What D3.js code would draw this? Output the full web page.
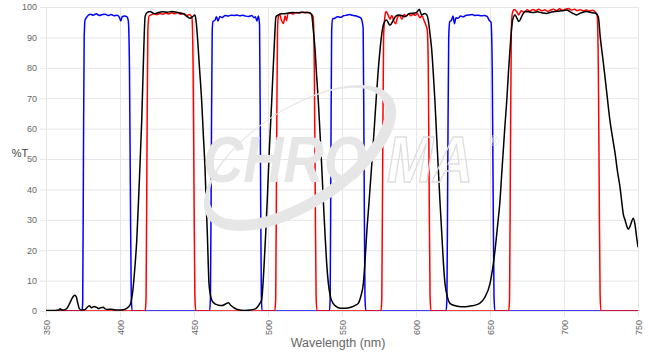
<!DOCTYPE html>
<html>
<head>
<meta charset="utf-8">
<script src="https://cdn.jsdelivr.net/npm/d3@7"></script>
<style>
  body { margin: 0; background: #fff; }
  svg { display: block; font-family: "Liberation Sans", Arial, sans-serif; }
</style>
</head>
<body>
<svg id="chart" width="652" height="354"></svg>
<script>
// Tick values
const xTicks = [350, 400, 450, 500, 550, 600, 650, 700, 750];
const yTicks = [0, 10, 20, 30, 40, 50, 60, 70, 80, 90, 100];

// Excitation filters (blue), [wavelength nm, %T]
const excitation = [
    [350,0],[374.3,0],[374.8,3],[375.3,50],[375.8,90],[376.4,95.7],[378,97],[380,97.6],[382,97.3],[384,97.8],[386,97.2],
    [388,97.5],[390,97.6],[392,97.2],[394,97.5],[396,97.1],[398,97.3],[399.5,96.7],[400.5,95.4],[401.5,96.8],[403,97],
    [404.5,96.9],[405.6,95.5],[406.4,80],[407,40],[407.6,5],[408.2,0],
    [460.5,0],[461.1,4],[461.7,50],[462.3,92],[462.8,95.2],[464.2,95.7],[465.2,96.8],[466.2,95.4],[467.5,96.9],[469,96.5],
    [471,97.2],[473,97],[475,97.3],[477,97.2],[479,97.4],[481,97.1],[483,97.3],[485,97],[487,96.9],[489,97.2],[490.5,96.5],
    [491.5,96.8],[492.5,95.4],[493.5,97],[494.3,94],[494.9,50],[495.5,5],[496,0],
    [541.5,0],[542,4],[542.5,50],[543,92],[543.6,96],[545,96.3],[547,96.8],[549,96.6],[551,97.1],[553,97.3],[555,97.5],
    [557,97.3],[559,97.1],[561,96.8],[562.5,96.5],[563.5,95.5],[564.3,93],[564.9,50],[565.5,5],[566.1,0],
    [620.3,0],[620.9,4],[621.5,50],[622.1,90],[622.8,95.2],[624,95.7],[625,97],[626,94.5],[627,96.5],[628.5,96.3],[630,97],
    [632,96.8],[634,97.3],[636,97.4],[638,97.5],[640,97.2],[642,97.3],[644,97.1],[646,97.2],[648,96.9],[649.5,95.6],
    [650.7,95],[651.5,80],[652.1,40],[652.7,5],[653.3,0],
    [750,0]
];

// Emission filters (red)
const emission = [
    [350,0],[417,0],[417.6,4],[418.2,50],[418.8,92],[419.6,97],[421,97.4],[423,97.8],[425,97.5],[427,97.9],[429,97.6],
    [431,98],[433,97.7],[435,98.1],[437,97.8],[439,98.2],[441,97.6],[443,97.9],[445,97.2],[447,97.5],[448.6,96.5],
    [449.4,80],[450,40],[450.6,5],[451.2,0],
    [504.6,0],[505.2,4],[505.8,50],[506.4,92],[507,96.8],[508,97.5],[509,95.8],[510.4,94.6],[511.5,97],[512.5,95.5],
    [513.5,97.8],[515,98],[517,97.7],[519,98.2],[521,98],[523,98.3],[525,98.1],[527,98.3],[529,97.8],[530.5,96.8],
    [531.3,80],[531.9,40],[532.5,5],[533.1,0],
    [576.3,0],[576.9,4],[577.5,50],[578.1,90],[578.8,96],[579.7,98.5],[581,97.6],[582.5,96],[583.7,97.2],[585,95.3],
    [586.3,94.5],[587.5,96.6],[589,97.2],[590.5,96],[592,97.5],[593.5,97],[595,97.8],[596.5,97.1],[598,97.6],[599.5,97.3],
    [601,97.9],[602.5,96.5],[604,97],[605.5,95.5],[606.7,94],[607.6,92.5],[608.3,80],[608.9,40],[609.5,5],[610.1,0],
    [662.6,0],[663.2,4],[663.8,50],[664.4,92],[665.1,98],[666.5,99.2],[668,98.5],[669.5,97.4],[671,98.8],[673,98.2],
    [675,99.1],[677,98.6],[679,99.2],[681,98.8],[683,99.3],[685,98.7],[687,99.1],[689,98.6],[691,99],[693,99.3],[695,98.8],
    [697,99.4],[699,98.9],[701,99.3],[703,99.5],[705,99],[707,99.3],[709,98.8],[711,99.1],[713,98.7],[715,99],[717,98.6],
    [719,98.9],[721,98.4],[722.4,97.4],[723.2,80],[723.8,40],[724.4,5],[725,0],
    [750,0]
];

// Dichroic (black)
const dichroic = [
    [350,0.2],[356,0.2],[358.5,0.3],[359.6,0.7],[360.6,0.4],[362,0.3],[364,0.8],[366,2.5],[368,4.5],[369.5,5.2],[370.5,4.6],
    [371.5,2.5],[372.5,0.8],[374,0.3],[376,0.4],[377.5,1],[379.3,1.7],[380.8,1.1],[382.5,1.5],[384.2,1.2],[385.5,0.8],
    [387,1.1],[388.7,1.2],[390,0.7],[392,0.5],[394,0.6],[396,0.4],[399,0.3],[402,0.4],[404.5,0.9],[406.8,2],[408.5,6],
    [410,14],[411.3,23],[413,42],[414.7,63],[416,85],[417,97],[418.5,98.2],[420.3,98.5],[422,98.1],[423.6,97.8],[426,98.2],
    [429,98.4],[432,98.3],[435,98.5],[438,98.3],[441,98],[443.5,97.6],[445.5,96.8],[447.3,96.3],[449,96.8],[450.7,97.4],
    [451.5,95],[452.2,91],[453.7,80],[455.2,69],[456.3,58],[457.4,47.5],[458.2,36],[459,25.6],[459.6,16],[460.1,9.2],
    [461,5.5],[462,3.6],[463.5,2.6],[466,2],[469,1.8],[471,2.2],[473.2,2.7],[475,1.8],[477.5,0.9],[480,0.4],[484,0.2],
    [488,0.3],[491,0.6],[493,1.4],[494.6,2.6],[495.7,3.6],[496.5,8],[497.3,14.6],[498.4,25],[499.5,36.5],[500.9,53],
    [502.5,69],[504.1,86],[505.4,96.8],[507,97.4],[509,97.8],[511.5,97.8],[514,98],[517,98.2],[520,98.1],[523,98.3],
    [526,98.2],[528.4,98],[529.5,97.4],[530.7,92],[531.8,86],[532.9,77],[534,69],[535.2,58],[536.3,47.5],[537.4,36],
    [538.5,25.6],[539.6,16],[540.8,9],[542.3,4.5],[544,2.5],[546,1.5],[548,1],[551,0.9],[554,1],[557,1.4],[559.5,2],
    [561,2.5],[562.8,5],[564.4,9],[565.5,16],[566.7,25.6],[568.3,36],[570,47.5],[571.5,58],[573,69],[574.3,78],[575.7,86],
    [577.9,94],[580,95.7],[582.4,94],[584.5,95.5],[586,96.8],[588,97.4],[590,97.2],[592.6,96.8],[594.5,97.5],[596,97.9],
    [599.3,98],[601,98.5],[602.2,99.3],[603.8,97.4],[606,97.9],[607.2,97.5],[608.3,95.7],[609.5,91],[610.6,86],[611.7,78],
    [612.8,69],[613.9,58],[615,47.5],[616.2,36],[617.4,25.6],[618.5,16],[619.6,9],[621.3,4.5],[623,2.5],[626,1.8],
    [629,1.5],[632,1.4],[635,1.5],[638,1.7],[641,2.1],[643,2.5],[646.5,4.5],[650,9],[653.4,20],[655.1,28],[656.8,36.5],
    [657.9,45],[659,53],[660.1,61],[661.3,69],[662.4,78],[663.5,86],[665.3,95.7],[666.9,97.4],[668,96.5],[669.5,95.2],
    [671.5,97],[673.6,98.5],[676,98.4],[679,98.2],[682,98.4],[685,98.1],[688.3,97.9],[691,98.3],[694,98.5],[697,98.7],
    [699.5,98.8],[701.8,99],[704,98.5],[706.5,97.8],[708.6,97.4],[711,98],[713,98.3],[715.3,98.5],[718,98.2],[721,98],
    [723.2,96.8],[724.5,90],[726,84],[727.7,77],[729.3,70],[731,62.8],[732.8,57],[734.5,51.9],[736.1,46],[737.8,40.9],
    [739,36],[740,32],[741.2,30],[742.4,28],[743.4,26.9],[744.4,27.6],[745.3,28.8],[746.8,30.5],[748,28.3],[749,24.5],
    [750,21]
];

const svgMargin = { top: 7, right: 14, bottom: 43, left: 46 };
const svg = d3.select("#chart");
const width = 652 - svgMargin.left - svgMargin.right;
const height = 354 - svgMargin.top - svgMargin.bottom;

const chart_svg = svg.append("g")
    .attr("transform", `translate(${svgMargin.left},${svgMargin.top})`);

const x = d3.scaleLinear().domain([350, 750]).range([0, width]);
const y = d3.scaleLinear().domain([0, 100]).range([height, 0]);

// Watermark logo (behind grid)
const logo = svg.append("g").attr("fill", "#e6e6e6");
logo.append("path")
    .attr("fill-rule", "evenodd")
    .attr("d", function() {
        // two rotated ellipses make a crescent ring
        const ell = (cx, cy, rx, ry, a) => {
            const pts = d3.range(0, 361, 6).map(t => {
                const r = t * Math.PI / 180, ca = Math.cos(a), sa = Math.sin(a);
                const px = rx * Math.cos(r), py = ry * Math.sin(r);
                return [cx + px * ca - py * sa, cy + px * sa + py * ca];
            });
            return "M" + pts.join("L") + "Z";
        };
        const a = -33 * Math.PI / 180;
        return ell(300, 158, 110, 50, a) + ell(297, 154, 101, 44, a);
    });
logo.append("text")
    .attr("x", 203).attr("y", 182)
    .attr("textLength", 164).attr("lengthAdjust", "spacingAndGlyphs")
    .style("font-size", "64px").style("font-weight", "900").style("font-style", "italic")
    .text("CHRO");
logo.append("text")
    .attr("x", 387).attr("y", 182)
    .attr("textLength", 86).attr("lengthAdjust", "spacingAndGlyphs")
    .attr("fill", "none").attr("stroke", "#dedede").attr("stroke-width", 1.5)
    .style("font-size", "64px").style("font-weight", "bold").style("font-style", "italic")
    .text("MA");
logo.append("text")
    .attr("x", 489).attr("y", 146)
    .style("font-size", "14px")
    .text("®");

// Y axis with grid
const yAxis = chart_svg.append("g")
    .attr("transform", "translate(-6,0)")
    .call(d3.axisLeft(y).tickValues(yTicks).tickSize(-(width + 6)).tickPadding(3));
yAxis.select(".domain").remove();
yAxis.selectAll(".tick line").attr("stroke", "#e6e6e6");
yAxis.selectAll("text").attr("fill", "#666").style("font-size", "9px");

// X axis with grid
const xAxis = chart_svg.append("g")
    .attr("transform", `translate(0,${height + 6})`)
    .call(d3.axisBottom(x).tickValues(xTicks).tickSize(-(height + 6)).tickFormat(d3.format("d")));
xAxis.select(".domain").remove();
xAxis.selectAll(".tick line").attr("stroke", "#e6e6e6");
xAxis.selectAll("text")
    .attr("fill", "#666")
    .style("font-size", "9px")
    .attr("transform", "rotate(-90)")
    .attr("text-anchor", "end")
    .attr("x", -3)
    .attr("y", 0)
    .attr("dy", ".35em");

// Clip to plot
svg.append("defs").append("clipPath").attr("id", "plot-clip")
    .append("rect").attr("width", width).attr("height", height);

const line = d3.line()
    .x(d => x(d[0]))
    .y(d => y(d[1]))
    .curve(d3.curveMonotoneX);

const series = [
    { key: "excitation", values: excitation, color: "#0000ff" },
    { key: "emission", values: emission, color: "#ff0000" },
    { key: "dichroic", values: dichroic, color: "#000000" }
];

chart_svg.append("g")
    .attr("clip-path", "url(#plot-clip)")
    .selectAll(".line")
    .data(series)
    .enter()
    .append("path")
    .attr("class", "line")
    .attr("fill", "none")
    .attr("stroke", d => d.color)
    .attr("stroke-width", 1.5)
    .attr("stroke-linejoin", "round")
    .attr("d", d => line(d.values));

// Axis titles
svg.append("text")
    .attr("x", svgMargin.left + width / 2 - 4)
    .attr("y", 347)
    .attr("text-anchor", "middle")
    .attr("fill", "#666")
    .style("font-size", "12.5px")
    .text("Wavelength (nm)");

svg.append("text")
    .attr("x", 20)
    .attr("y", 157)
    .attr("text-anchor", "middle")
    .attr("fill", "#444")
    .style("font-size", "11px")
    .text("%T");
</script>
</body>
</html>
